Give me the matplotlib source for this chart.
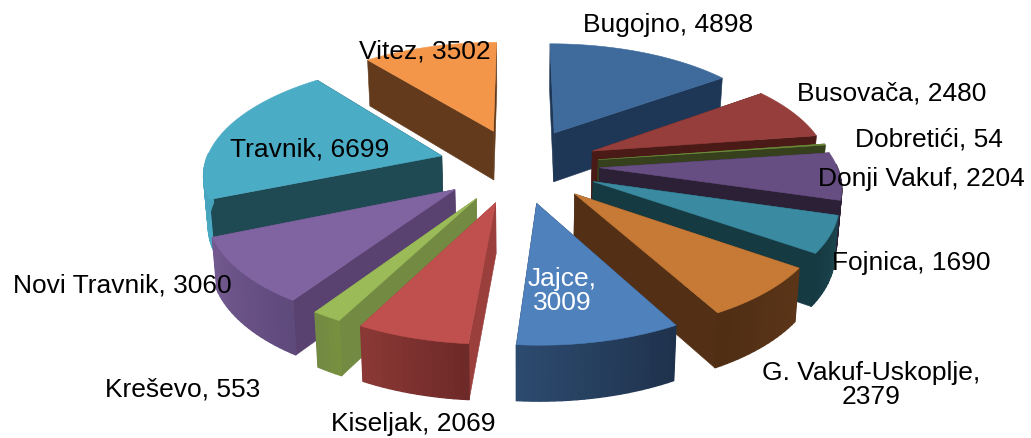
import numpy as np
import matplotlib
matplotlib.use('Agg')
import matplotlib.pyplot as plt
from matplotlib.colors import to_rgb

plt.rcParams['font.family'] = ['Liberation Sans', 'DejaVu Sans']

# data
names = ['Bugojno', 'Busovača', 'Dobretići', 'Donji Vakuf', 'Fojnica', 'G. Vakuf-Uskoplje',
         'Jajce', 'Kiseljak', 'Kreševo', 'Novi Travnik', 'Travnik', 'Vitez']
values = [4898, 2480, 54, 2204, 1690, 2379, 3009, 2069, 553, 3060, 6699, 3502]

top_colors = ['#3e6a9c', '#963e3b', '#6f8c3a', '#674e82', '#3a8aa2', '#c67a35',
              '#4f81bd', '#c0504d', '#9bbb59', '#8064a2', '#4bacc6', '#f3964a']
side_colors = ['#1f3756', '#4a1a17', '#36401c', '#2b2035', '#163a42', '#533015',
               '#1f324d', '#9a3f3c', '#728a42', '#5a4270', '#1f4a54', '#633a1b']
wall_a = ['#2c4a6e', '#6e2a28', '#728a42', '#2b2035', '#1b4650', '#5c3518',
          '#1f324d', '#6e2a28', '#76903f', '#5f4a7c', '#4bacc6', '#9a6230']
wall_b = ['#1f3756', '#4a1a17', '#36401c', '#2b2035', '#163a42', '#4f2e14',
          '#2c4a6e', '#8a3835', '#728a42', '#73598f', '#3a8aa2', '#633a1b']

# label text placement
label_xy = [(668, 25), (892, 94), (929, 140), (921, 179), (911, 263), (871, 385),
            (562, 291), (413, 424), (183, 390), (122, 286), (310, 150), (425, 52)]
label_text = ['Bugojno, 4898', 'Busovača, 2480', 'Dobretići, 54', 'Donji Vakuf, 2204',
              'Fojnica, 1690', 'G. Vakuf-Uskoplje,\n2379', 'Jajce,\n3009', 'Kiseljak, 2069',
              'Kreševo, 553', 'Novi Travnik, 3060', 'Travnik, 6699', 'Vitez, 3502']

# projection of the pie plane
cx, cy = 519, 166
A, B, persp = 237, 110, 0.14
explode = 0.34
depth = 50


def project(X, Y, low=False):
    w = 1 + persp * Y
    sx = A * X / w
    sy = cy - B * Y / w
    if low:
        sy = sy + depth / (1 + 0.08 * Y)
        sx = sx * 0.985
    return cx + sx, sy


def mix(c1, c2, t):
    return tuple((1 - t) * a + t * b for a, b in zip(to_rgb(c1), to_rgb(c2)))


fig = plt.figure(figsize=(10.31, 4.39), dpi=100)
ax = fig.add_axes([0, 0, 1, 1])
ax.set_xlim(0, 1031)
ax.set_ylim(439, 0)
ax.axis('off')

fracs = np.array(values) / sum(values)
ends = np.cumsum(fracs) * 2 * np.pi
starts = ends - fracs * 2 * np.pi
mids = (starts + ends) / 2

for i in np.argsort(-np.cos(mids)):
    a0, a1, mid = starts[i], ends[i], mids[i]
    ox, oy = explode * np.sin(mid), explode * np.cos(mid)
    th = np.linspace(a0, a1, max(int(np.degrees(a1 - a0) / 1.5), 2) + 1)
    X = ox + np.sin(th)
    Y = oy + np.cos(th)

    # radial walls
    for j in (0, -1):
        xs = [ox, X[j], X[j], ox]
        ys = [oy, Y[j], Y[j], oy]
        low = [False, False, True, True]
        pts = [project(a, b, c) for a, b, c in zip(xs, ys, low)]
        ax.fill(*zip(*pts), color=side_colors[i], lw=0.4)

    # outer wall, only the part facing the viewer
    for k in range(len(th) - 1):
        if np.cos((th[k] + th[k + 1]) / 2) > 0.03:
            continue
        p = [project(X[k], Y[k]), project(X[k + 1], Y[k + 1]),
             project(X[k + 1], Y[k + 1], True), project(X[k], Y[k], True)]
        t = k / max(len(th) - 2, 1)
        ax.fill(*zip(*p), color=mix(wall_a[i], wall_b[i], t), lw=1.0)

    # top face
    tx, ty = project(np.r_[ox, X], np.r_[oy, Y])
    ax.fill(tx, ty, color=top_colors[i], lw=0.4)

for i, (x, y) in enumerate(label_xy):
    col = 'white' if names[i] == 'Jajce' else 'black'
    ax.text(x, y, label_text[i], ha='center', va='center', fontsize=19, color=col,
            linespacing=1.05, zorder=10)

fig.savefig('out.png', dpi=100)
